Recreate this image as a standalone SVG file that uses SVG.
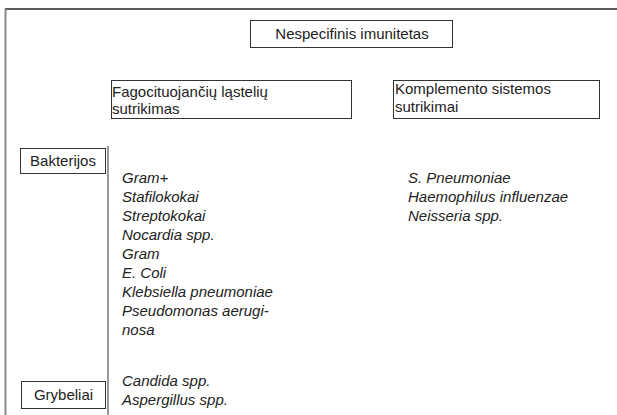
<svg xmlns="http://www.w3.org/2000/svg" width="617" height="415" viewBox="0 0 617 415">
<style>
.box{fill:#fff;stroke:#333;stroke-width:1}
.t{font-family:"Liberation Sans",Arial,sans-serif;font-size:15px;fill:#222}
.i{font-family:"Liberation Sans",Arial,sans-serif;font-size:15px;font-style:italic;fill:#222}
</style>
<rect width="617" height="415" fill="#fff"/>
<g id="frame">
<line x1="5" y1="9" x2="617" y2="9" stroke="#222" stroke-width="1.5"/>
<line x1="5.5" y1="9" x2="5.5" y2="415" stroke="#888" stroke-width="2"/>
</g>
<g id="connectors">
<line x1="108" y1="146" x2="108" y2="415" stroke="#555" stroke-width="1.2"/>
</g>
<g id="title">
<rect class="box" x="250.5" y="20.5" width="202" height="27"/>
<text class="t" x="352" y="39" text-anchor="middle">Nespecifinis imunitetas</text>
</g>
<g id="fagocit">
<rect class="box" x="111.5" y="80.5" width="240" height="38"/>
<text class="t" x="112" y="97">Fagocituojančių ląstelių</text>
<text class="t" x="112" y="114">sutrikimas</text>
</g>
<g id="komplement">
<rect class="box" x="393.5" y="80.5" width="206" height="38"/>
<text class="t" x="395" y="94">Komplemento sistemos</text>
<text class="t" x="395" y="112">sutrikimai</text>
</g>
<g id="bakterijos">
<rect class="box" x="20.5" y="148.5" width="85" height="25"/>
<text class="t" x="63" y="166" text-anchor="middle">Bakterijos</text>
</g>
<g id="grybeliai">
<rect class="box" x="21.5" y="381.5" width="84" height="27"/>
<text class="t" x="63.5" y="400" text-anchor="middle">Grybeliai</text>
</g>
<g id="fagocit-list">
<text class="i" x="122" y="183">Gram+</text>
<text class="i" x="122" y="202">Stafilokokai</text>
<text class="i" x="122" y="221">Streptokokai</text>
<text class="i" x="122" y="240">Nocardia spp.</text>
<text class="i" x="122" y="259">Gram</text>
<text class="i" x="122" y="278">E. Coli</text>
<text class="i" x="122" y="297">Klebsiella pneumoniae</text>
<text class="i" x="122" y="316">Pseudomonas aerugi-</text>
<text class="i" x="122" y="335">nosa</text>
<text class="i" x="122" y="386">Candida spp.</text>
<text class="i" x="122" y="405">Aspergillus spp.</text>
</g>
<g id="komplement-list">
<text class="i" x="408" y="183">S. Pneumoniae</text>
<text class="i" x="408" y="202">Haemophilus influenzae</text>
<text class="i" x="408" y="221">Neisseria spp.</text>
</g>
</svg>
